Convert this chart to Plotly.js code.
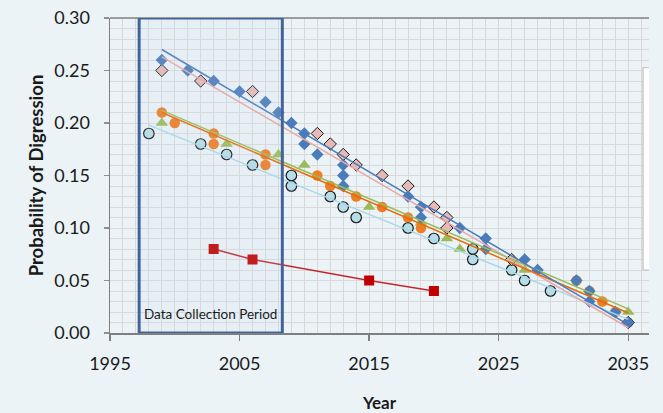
<!DOCTYPE html>
<html>
<head>
<meta charset="utf-8">
<script src="https://cdn.plot.ly/plotly-3.0.1.min.js"></script>
<style>
  html, body { margin: 0; padding: 0; background: #EBF3F7; }
  #chart { width: 663px; height: 413px; }
</style>
</head>
<body>
<div id="chart"></div>
<script>
// ---- data ----
const blueYears = [1999,2001,2003,2005,2007,2008,2009,2010,2010,2011,2013,2013,2013,2018,2019,2019,2022,2024,2024,2027,2028,2031,2032,2032,2034,2035];
const blueVals  = [0.26,0.25,0.24,0.23,0.22,0.21,0.20,0.19,0.18,0.17,0.16,0.15,0.14,0.13,0.12,0.11,0.10,0.09,0.08,0.07,0.06,0.05,0.04,0.03,0.02,0.01];

const pinkYears = [1999,2002,2006,2011,2012,2013,2014,2016,2018,2020,2021,2021,2026,2035];
const pinkVals  = [0.25,0.24,0.23,0.19,0.18,0.17,0.16,0.15,0.14,0.12,0.11,0.10,0.07,0.01];

const orangeYears = [1999,2000,2003,2003,2007,2007,2011,2012,2014,2016,2018,2019,2031,2032,2033,2034,2035];
const orangeVals  = [0.21,0.20,0.19,0.18,0.17,0.16,0.15,0.14,0.13,0.12,0.11,0.10,0.05,0.04,0.03,0.02,0.01];

const greenYears = [1999,2004,2008,2010,2013,2015,2019,2021,2022,2027,2035];
const greenVals  = [0.20,0.18,0.17,0.16,0.14,0.12,0.105,0.09,0.08,0.06,0.02];

const cyanYears = [1998,2002,2004,2006,2009,2009,2012,2013,2014,2018,2020,2023,2023,2026,2027,2029];
const cyanVals  = [0.19,0.18,0.17,0.16,0.15,0.14,0.13,0.12,0.11,0.10,0.09,0.08,0.07,0.06,0.05,0.04];

const redYears = [2003,2006,2015,2020];
const redVals  = [0.08,0.07,0.05,0.04];

// trend lines (end points)
const blueTrendYears = [1999,2035];   const blueTrendVals = [0.270,0.008];
const pinkTrendYears = [1999,2035];   const pinkTrendVals = [0.263,0.005];
const orangeTrendYears = [1999,2035]; const orangeTrendVals = [0.210,0.019];
const greenTrendYears = [1999,2035];  const greenTrendVals = [0.212,0.023];
const cyanTrendYears = [1998,2035];   const cyanTrendVals = [0.198,0.013];

const periodStart = 1997.25, periodEnd = 2008.3;
const xTicks = [1995,2005,2015,2025,2035];

// ---- traces ----
const traces = [
  {x: redYears, y: redVals, mode: 'lines+markers', line: {color: '#C4262E', width: 1.5},
   marker: {symbol: 'square', size: 10, color: '#C00000'}},
  {x: greenYears, y: greenVals, mode: 'markers',
   marker: {symbol: 'triangle-up', size: 11, color: '#9BBB59'}},
  {x: orangeYears, y: orangeVals, mode: 'markers',
   marker: {symbol: 'circle', size: 10.5, color: '#EE7D24'}},
  {x: cyanYears, y: cyanVals, mode: 'markers',
   marker: {symbol: 'circle', size: 10.5, color: '#B7DEE8', line: {color: '#1A1A1A', width: 1.2}}},
  {x: pinkYears, y: pinkVals, mode: 'markers',
   marker: {symbol: 'diamond', size: 9.5, color: '#E6B9B8', line: {color: '#1A1A1A', width: 1}}},
  {x: blueYears, y: blueVals, mode: 'markers',
   marker: {symbol: 'diamond', size: 9.5, color: '#4A7BBA'}},
  {x: cyanTrendYears, y: cyanTrendVals, mode: 'lines', line: {color: '#A9D8E8', width: 1.5}},
  {x: pinkTrendYears, y: pinkTrendVals, mode: 'lines', line: {color: '#E6A8A8', width: 1.5}},
  {x: greenTrendYears, y: greenTrendVals, mode: 'lines', line: {color: '#9BBB59', width: 1.5}},
  {x: orangeTrendYears, y: orangeTrendVals, mode: 'lines', line: {color: '#E46C0A', width: 1.5}},
  {x: blueTrendYears, y: blueTrendVals, mode: 'lines', line: {color: '#4A7BBA', width: 1.5}}
];

const fontFam = 'Lato, "Open Sans", sans-serif';

const layout = {
  width: 663, height: 413,
  margin: {l: 110, r: 14, t: 18, b: 80},
  paper_bgcolor: '#EBF3F7',
  plot_bgcolor: '#EBF3F7',
  showlegend: false,
  font: {family: fontFam, color: '#1A1A1A', size: 18},
  xaxis: {
    range: [1995, 2036.6],
    tickmode: 'array', tickvals: xTicks, ticktext: xTicks.map(String),
    ticks: 'outside', ticklen: 6, tickwidth: 1.5, tickcolor: '#808080',
    showline: true, linecolor: '#7F7F7F', linewidth: 2,
    showgrid: true, gridcolor: '#D9D9D9', gridwidth: 1,
    minor: {dtick: 1, tick0: 1995, showgrid: true, gridcolor: '#D9D9D9', gridwidth: 1},
    zeroline: false,
    tickfont: {family: fontFam, size: 18, color: '#1A1A1A'},
    ticklabelstandoff: 7,
    title: {text: '<b>Year</b>', font: {family: fontFam, size: 17, color: '#1A1A1A'}, standoff: 26}
  },
  yaxis: {
    range: [0, 0.30],
    tickmode: 'linear', tick0: 0, dtick: 0.05, tickformat: '.2f',
    ticks: 'outside', ticklen: 5, tickwidth: 1.5, tickcolor: '#909090',
    showline: true, linecolor: '#7F7F7F', linewidth: 1.5,
    showgrid: true, gridcolor: '#D9D9D9', gridwidth: 1,
    minor: {dtick: 0.01, tick0: 0, showgrid: true, gridcolor: '#D9D9D9', gridwidth: 1},
    zeroline: false,
    tickfont: {family: fontFam, size: 18, color: '#1A1A1A'},
    ticklabelstandoff: 10,
    title: {text: '<b>Probability of Digression</b>', font: {family: fontFam, size: 18.5, color: '#1A1A1A'}, standoff: 6}
  },
  shapes: [
    {type: 'line', xref: 'paper', yref: 'paper', x0: 0, x1: 1, y0: 1, y1: 1,
     line: {color: '#7F7F7F', width: 1.5}},
    {type: 'rect', xref: 'x', yref: 'y', x0: periodStart, x1: periodEnd, y0: 0, y1: 0.30,
     layer: 'above', fillcolor: 'rgba(200,215,235,0.13)',
     line: {color: '#41659A', width: 3}},
    {type: 'rect', xref: 'paper', yref: 'paper', x0: 0.989, x1: 1.0, y0: 0.2, y1: 0.842,
     layer: 'above', fillcolor: '#FFFFFF', line: {width: 0}},
    {type: 'path', xref: 'paper', yref: 'paper', layer: 'above',
     path: 'M 1.0 0.842 L 0.989 0.842 L 0.989 0.2 L 1.0 0.2',
     line: {color: '#BFBFBF', width: 1.2}}
  ],
  annotations: [
    {xref: 'x', yref: 'y', x: (periodStart + periodEnd) / 2, y: 0.0185,
     text: 'Data Collection Period', showarrow: false,
     font: {family: fontFam, size: 13.5, color: '#1A1A1A'}}
  ]
};

Plotly.newPlot('chart', traces, layout, {displayModeBar: false, staticPlot: true});
</script>
</body>
</html>
